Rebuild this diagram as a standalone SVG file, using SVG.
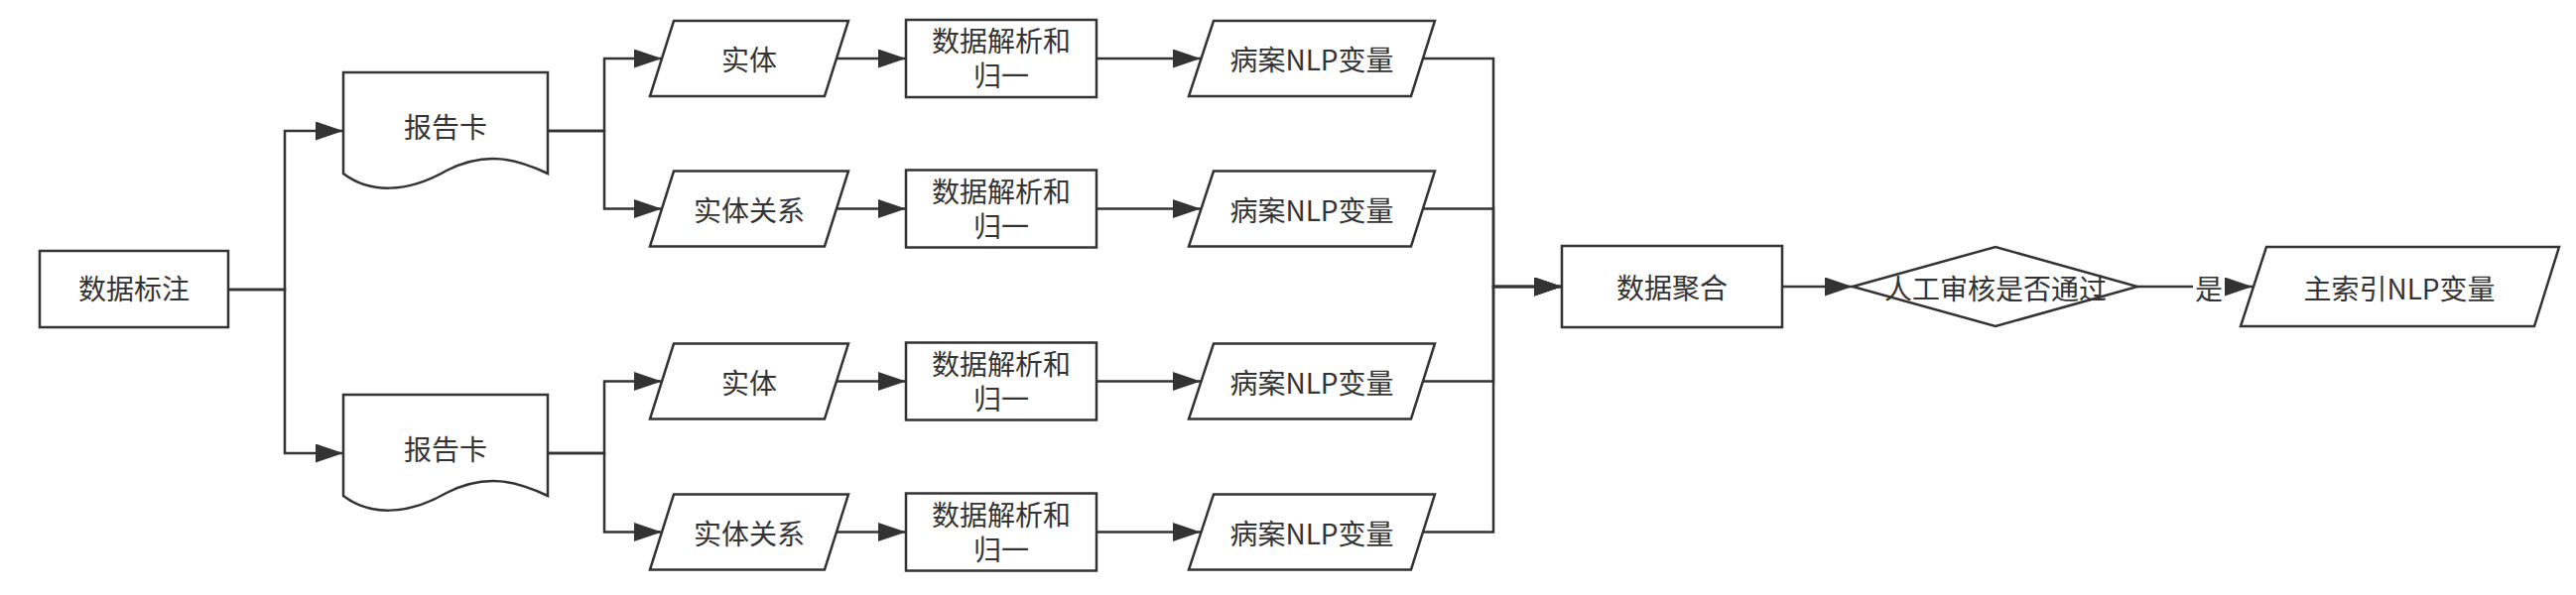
<svg xmlns="http://www.w3.org/2000/svg" width="2596" height="600" viewBox="0 0 2596 600">
<style>
.s{fill:#ffffff;stroke:#333333;stroke-width:2.5;stroke-linejoin:miter}
.c{fill:none;stroke:#333333;stroke-width:2.5}
.t{font-family:"Noto Sans CJK SC","Noto Sans",sans-serif;font-size:28px;fill:#333333;text-anchor:middle}
</style>
<defs>
<marker id="ah" markerUnits="userSpaceOnUse" markerWidth="28" markerHeight="19" refX="28" refY="9.5" orient="auto">
<path d="M0,0 L28,9.5 L0,19 z" fill="#333333"/>
</marker>
</defs>
<rect width="2596" height="600" fill="#ffffff"/>
<g id="connectors">
<path class="c" d="M230,292 H287 V132 H346" marker-end="url(#ah)"/>
<path class="c" d="M230,292 H287 V457 H346" marker-end="url(#ah)"/>
<path class="c" d="M552,132 H609 V59 H667" marker-end="url(#ah)"/>
<path class="c" d="M552,132 H609 V210.5 H667" marker-end="url(#ah)"/>
<path class="c" d="M552,457 H609 V384.5 H667" marker-end="url(#ah)"/>
<path class="c" d="M552,457 H609 V536.5 H667" marker-end="url(#ah)"/>
<path class="c" d="M843,59 H913" marker-end="url(#ah)"/>
<path class="c" d="M843,210.5 H913" marker-end="url(#ah)"/>
<path class="c" d="M843,384.5 H913" marker-end="url(#ah)"/>
<path class="c" d="M843,536.5 H913" marker-end="url(#ah)"/>
<path class="c" d="M1105,59 H1210" marker-end="url(#ah)"/>
<path class="c" d="M1105,210.5 H1210" marker-end="url(#ah)"/>
<path class="c" d="M1105,384.5 H1210" marker-end="url(#ah)"/>
<path class="c" d="M1105,536.5 H1210" marker-end="url(#ah)"/>
<path class="c" d="M1434,59 H1505 V289 H1574" marker-end="url(#ah)"/>
<path class="c" d="M1434,210.5 H1505 V289 H1574" marker-end="url(#ah)"/>
<path class="c" d="M1434,384.5 H1505 V289 H1574" marker-end="url(#ah)"/>
<path class="c" d="M1434,536.5 H1505 V289 H1574" marker-end="url(#ah)"/>
<path class="c" d="M1796,289 H1867" marker-end="url(#ah)"/>
<path class="c" d="M2154,289 H2270" marker-end="url(#ah)"/>
<rect x="2210" y="272" width="32" height="36" fill="#ffffff"/>
<text class="t" x="2226" y="302">是</text>
</g>
<g id="n-biaozhu">
<rect class="s" x="40" y="253" width="190" height="77"/>
<text class="t" x="135" y="302">数据标注</text>
</g>
<g id="n-baogaoka1">
<path class="s" d="M346,73 H552 V175 C520,160 490,152 450,172 C410,195 372,195 346,175 Z"/>
<text class="t" x="449" y="139">报告卡</text>
</g>
<g id="n-baogaoka2">
<path class="s" d="M346,398 H552 V500 C520,485 490,477 450,497 C410,520 372,520 346,500 Z"/>
<text class="t" x="449" y="464">报告卡</text>
</g>
<g id="n-shiti1">
<polygon class="s" points="679,21 855,21 831,97 655,97"/>
<text class="t" x="755" y="71">实体</text>
</g>
<g id="n-guanxi1">
<polygon class="s" points="679,172.5 855,172.5 831,248.5 655,248.5"/>
<text class="t" x="755" y="222.5">实体关系</text>
</g>
<g id="n-shiti2">
<polygon class="s" points="679,346.5 855,346.5 831,422.5 655,422.5"/>
<text class="t" x="755" y="396.5">实体</text>
</g>
<g id="n-guanxi2">
<polygon class="s" points="679,498.5 855,498.5 831,574.5 655,574.5"/>
<text class="t" x="755" y="548.5">实体关系</text>
</g>
<g id="n-jiexi1">
<rect class="s" x="913" y="20" width="192" height="78"/>
<text class="t" x="1009" y="52">数据解析和</text>
<text class="t" x="1009" y="87">归一</text>
</g>
<g id="n-jiexi2">
<rect class="s" x="913" y="171.5" width="192" height="78"/>
<text class="t" x="1009" y="203.5">数据解析和</text>
<text class="t" x="1009" y="238.5">归一</text>
</g>
<g id="n-jiexi3">
<rect class="s" x="913" y="345.5" width="192" height="78"/>
<text class="t" x="1009" y="377.5">数据解析和</text>
<text class="t" x="1009" y="412.5">归一</text>
</g>
<g id="n-jiexi4">
<rect class="s" x="913" y="497.5" width="192" height="78"/>
<text class="t" x="1009" y="529.5">数据解析和</text>
<text class="t" x="1009" y="564.5">归一</text>
</g>
<g id="n-nlp1">
<polygon class="s" points="1223,21 1446,21 1422,97 1198,97"/>
<text class="t" x="1322" y="71">病案NLP变量</text>
</g>
<g id="n-nlp2">
<polygon class="s" points="1223,172.5 1446,172.5 1422,248.5 1198,248.5"/>
<text class="t" x="1322" y="222.5">病案NLP变量</text>
</g>
<g id="n-nlp3">
<polygon class="s" points="1223,346.5 1446,346.5 1422,422.5 1198,422.5"/>
<text class="t" x="1322" y="396.5">病案NLP变量</text>
</g>
<g id="n-nlp4">
<polygon class="s" points="1223,498.5 1446,498.5 1422,574.5 1198,574.5"/>
<text class="t" x="1322" y="548.5">病案NLP变量</text>
</g>
<g id="n-juhe">
<rect class="s" x="1574" y="248" width="222" height="82"/>
<text class="t" x="1685" y="301">数据聚合</text>
</g>
<g id="n-shenhe">
<polygon class="s" points="1867,289 2011,249 2154,289 2011,329"/>
<text class="t" x="2011" y="302">人工审核是否通过</text>
</g>
<g id="n-zhusuoyin">
<polygon class="s" points="2284,249 2579,249 2554,329 2258,329"/>
<text class="t" x="2418" y="302">主索引NLP变量</text>
</g>
</svg>
